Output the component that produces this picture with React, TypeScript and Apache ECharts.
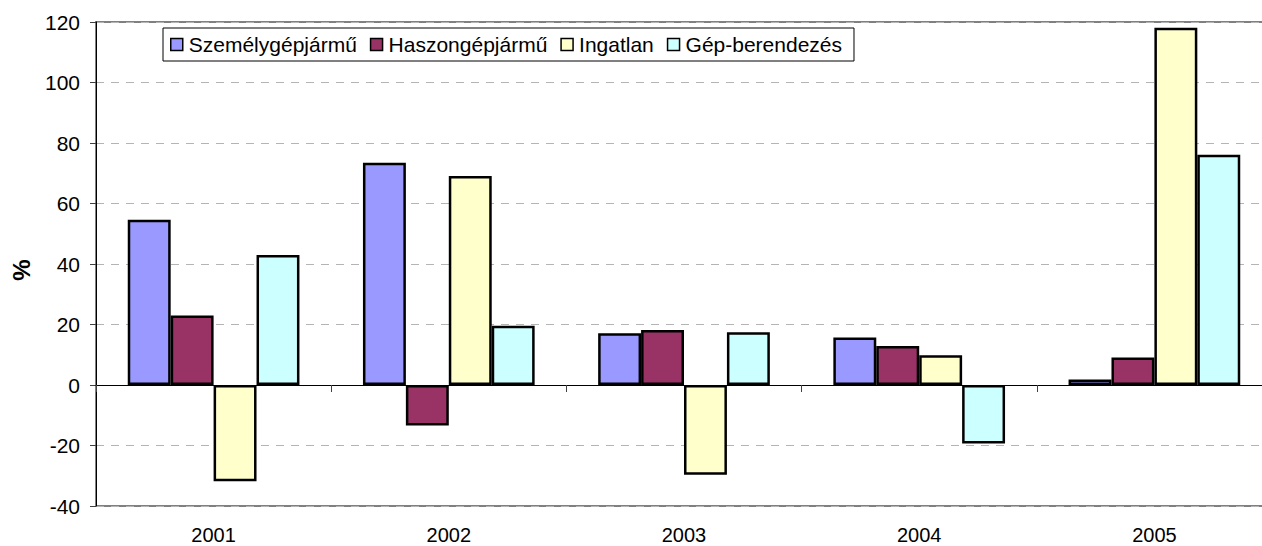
import React, { useEffect, useRef } from "react";
import * as echarts from "echarts";

const years = ["2001", "2002", "2003", "2004", "2005"];
const szemely = [54.6, 73.5, 17.1, 15.7, 1.8];
const haszon = [23.0, -13.4, 18.2, 12.9, 9.1];
const ingatlan = [-31.8, 69.1, -29.7, 9.8, 118.1];
const gep = [43.0, 19.6, 17.4, -19.3, 76.1];

const seriesNames = ["Személygépjármű", "Haszongépjármű", "Ingatlan", "Gép-berendezés"];
const seriesColors = ["#9999FF", "#993366", "#FFFFCC", "#CCFFFF"];
const seriesData = [szemely, haszon, ingatlan, gep];

const FONT = "'Liberation Sans', Arial, sans-serif";

export default function App() {
  const ref = useRef<HTMLDivElement>(null);
  useEffect(() => {
    if (!ref.current) return;
    const chart = echarts.init(ref.current, undefined, { renderer: "svg" });
    chart.setOption({
      animation: false,
      backgroundColor: "#ffffff",
      textStyle: { fontFamily: FONT },
      grid: {
        left: 96,
        top: 22,
        width: 1176,
        bottom: 40,
        containLabel: false,
        outerBoundsMode: "none",
        show: true,
        borderColor: "#808080",
        borderWidth: 2,
        backgroundColor: "transparent",
      },
      legend: {
        left: 163,
        top: 28,
        orient: "horizontal",
        icon: "rect",
        itemWidth: 12,
        itemHeight: 12,
        itemGap: 13,
        padding: [6, 12, 6, 7],
        backgroundColor: "#ffffff",
        borderColor: "#000000",
        borderWidth: 1,
        borderRadius: 0,
        itemStyle: { borderColor: "#000000", borderWidth: 1.5 },
        textStyle: { fontSize: 21, color: "#000000", fontFamily: FONT, padding: [0, 0, 0, 1] },
        data: seriesNames,
      },
      xAxis: [
        {
          type: "category",
          data: years,
          position: "bottom",
          axisLine: { show: true, onZero: true, lineStyle: { color: "#000000", width: 1 } },
          axisTick: { show: true, length: 7, lineStyle: { color: "#404040", width: 1 } },
          axisLabel: { show: false },
          splitLine: { show: false },
          z: 5,
        },
        {
          type: "category",
          data: years,
          position: "bottom",
          axisLine: { show: false, onZero: false },
          axisTick: { show: false },
          axisLabel: {
            show: true,
            fontSize: 20,
            lineHeight: 20,
            color: "#000000",
            fontFamily: FONT,
            margin: 19,
          },
          splitLine: { show: false },
        },
      ],
      yAxis: {
        type: "value",
        min: -40,
        max: 120,
        interval: 20,
        axisLine: { show: true, onZero: false, lineStyle: { color: "#000000", width: 1 } },
        axisTick: { show: true, length: 6, lineStyle: { color: "#404040", width: 1 } },
        axisLabel: { fontSize: 21, color: "#000000", fontFamily: FONT, margin: 16 },
        splitLine: { show: true, lineStyle: { color: "#b4b4b4", width: 1, type: [8, 7] } },
      },
      graphic: [
        {
          type: "text",
          x: 21,
          y: 270,
          rotation: Math.PI / 2,
          style: {
            text: "%",
            fontSize: 24,
            fontWeight: "bold",
            fontFamily: FONT,
            fill: "#000000",
            align: "center",
            verticalAlign: "middle",
          },
        },
      ],
      series: seriesNames.map((name, i) => ({
        name,
        type: "bar",
        xAxisIndex: 0,
        data: seriesData[i],
        barGap: "0%",
        barCategoryGap: "27%",
        itemStyle: { color: seriesColors[i], borderColor: "#000000", borderWidth: 2.5 },
        emphasis: { disabled: true },
      })),
    });
    return () => chart.dispose();
  }, []);
  return (
    <div
      ref={ref}
      style={{ position: "absolute", left: 0, top: 0, width: 1262, height: 546 }}
    />
  );
}
